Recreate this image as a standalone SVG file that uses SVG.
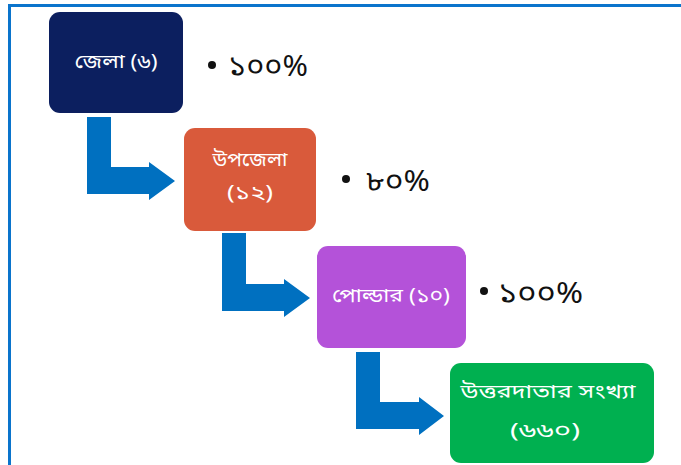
<svg xmlns="http://www.w3.org/2000/svg" width="681" height="465" viewBox="0 0 681 465">
<defs>
<style>
.lbl{font-family:"Noto Sans Bengali","Noto Sans","Liberation Sans",sans-serif;font-size:19px;fill:#ffffff;text-anchor:middle;dominant-baseline:central}
.pct{font-family:"Noto Sans Bengali","Noto Sans","Liberation Sans",sans-serif;font-size:29px;fill:#111111;dominant-baseline:central}
.arrow{fill:#0070C0}
.dot{fill:#111111}
</style>
</defs>
<rect x="0" y="0" width="681" height="465" fill="#ffffff"/>
<path d="M9.5,470 V5.5 H690" fill="none" stroke="#0a74cc" stroke-width="3"/>
<g id="connectors">
<path class="arrow" d="M87,117 h24 v50 h38 v-5 l26,19 l-26,19 v-6 h-62 z"/>
<path class="arrow" d="M222,233 h24 v51 h38 v-5 l26,19 l-26,19 v-6 h-62 z"/>
<path class="arrow" d="M356,352 h24 v50 h39 v-5 l25,19 l-25,19 v-6 h-63 z"/>
</g>
<g id="node-district">
<rect x="49" y="12" width="134" height="101" rx="11" fill="#0c1f5f"/>
<text class="lbl" x="116" y="63" textLength="83" lengthAdjust="spacingAndGlyphs">জেলা (৬)</text>
</g>
<g id="node-upazila">
<rect x="184" y="128" width="132" height="103" rx="11" fill="#d95a3b"/>
<text class="lbl" x="250" y="161" textLength="75" lengthAdjust="spacingAndGlyphs">উপজেলা</text>
<text class="lbl" x="250" y="194" textLength="46" lengthAdjust="spacingAndGlyphs">(১২)</text>
</g>
<g id="node-polder">
<rect x="317" y="246" width="149" height="102" rx="11" fill="#b452d9"/>
<text class="lbl" x="391" y="297" textLength="118" lengthAdjust="spacingAndGlyphs">পোল্ডার (১০)</text>
</g>
<g id="node-respondents">
<rect x="450" y="363" width="204" height="100" rx="11" fill="#00b050"/>
<text class="lbl" x="548" y="393" textLength="175" lengthAdjust="spacingAndGlyphs">উত্তরদাতার সংখ্যা</text>
<text class="lbl" x="545" y="432" textLength="70" lengthAdjust="spacingAndGlyphs">(৬৬০)</text>
</g>
<g id="pct-district">
<circle class="dot" cx="212" cy="65" r="4"/>
<text class="pct" x="228" y="68" textLength="80" lengthAdjust="spacingAndGlyphs">১০০%</text>
</g>
<g id="pct-upazila">
<circle class="dot" cx="346" cy="179" r="4"/>
<text class="pct" x="366" y="183" textLength="64" lengthAdjust="spacingAndGlyphs">৮০%</text>
</g>
<g id="pct-polder">
<circle class="dot" cx="484" cy="291" r="4"/>
<text class="pct" x="498" y="295" textLength="85" lengthAdjust="spacingAndGlyphs">১০০%</text>
</g>
</svg>
